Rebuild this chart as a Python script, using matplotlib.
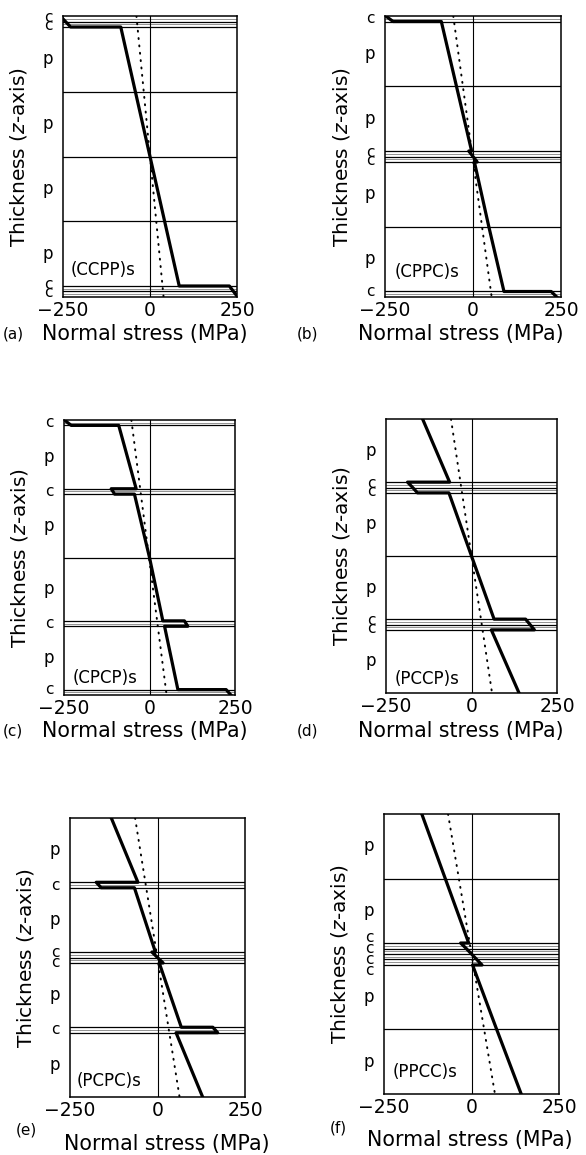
import matplotlib
matplotlib.use('Agg')
import matplotlib.pyplot as plt
import numpy as np
from matplotlib.transforms import offset_copy, blended_transform_factory

plt.rcParams['font.family'] = ['DejaVu Sans']
plt.rcParams['mathtext.fontset'] = 'dejavusans'

# ---------------- data ----------------
x_ticks = [-250, 0, 250]
x_tick_labels = ['\u2212250', '0', '250']
x_label = 'Normal stress (MPa)'
y_label = 'Thickness ($z$-axis)'
ply_thickness = {'c': 0.085, 'p': 1.0}

panel_letters = ['(a)', '(b)', '(c)', '(d)', '(e)', '(f)']
layup_names = ['(CCPP)s', '(CPPC)s', '(CPCP)s', '(PCCP)s', '(PCPC)s', '(PPCC)s']

# (a) (CCPP)s
layers_a = ['c', 'c', 'p', 'p', 'p', 'p', 'c', 'c']
stress_top_a = [-258, -243, -84, -42, 0, 42, 228, 240]
stress_bot_a = [-243, -228, -42, 0, 42, 84, 240, 252]
dotted_a = [-39, 39]

# (b) (CPPC)s
layers_b = ['c', 'p', 'p', 'c', 'c', 'p', 'p', 'c']
stress_top_b = [-248, -90, -47, -12, 0, 4, 45, 222]
stress_bot_b = [-227, -47, -4, 0, 12, 45, 88, 238]
dotted_b = [-56, 53]

# (c) (CPCP)s
layers_c = ['c', 'p', 'c', 'p', 'p', 'c', 'p', 'c']
stress_top_c = [-249, -90, -112, -44, 0, 102, 44, 224]
stress_bot_c = [-229, -39, -102, 0, 39, 112, 83, 238]
dotted_c = [-53, 50]

# (d) (PCCP)s
layers_d = ['p', 'c', 'c', 'p', 'p', 'c', 'c', 'p']
stress_top_d = [-143, -187, -172, -66, 0, 158, 171, 58]
stress_bot_d = [-64, -172, -158, 0, 66, 171, 184, 139]
dotted_d = [-60, 60]

# (e) (PCPC)s
layers_e = ['p', 'c', 'p', 'c', 'c', 'p', 'c', 'p']
stress_top_e = [-132, -175, -66, -16, 0, 5, 158, 53]
stress_bot_e = [-56, -161, -6, 0, 16, 68, 172, 129]
dotted_e = [-64, 63]

# (f) (PPCC)s
layers_f = ['p', 'p', 'c', 'c', 'c', 'c', 'p', 'p']
stress_top_f = [-142, -75, -31, -15, 0, 15, 3, 72]
stress_bot_f = [-75, -8, -15, 0, 15, 30, 72, 142]
dotted_f = [-67, 67]

panels = [
    (layers_a, stress_top_a, stress_bot_a, dotted_a),
    (layers_b, stress_top_b, stress_bot_b, dotted_b),
    (layers_c, stress_top_c, stress_bot_c, dotted_c),
    (layers_d, stress_top_d, stress_bot_d, dotted_d),
    (layers_e, stress_top_e, stress_bot_e, dotted_e),
    (layers_f, stress_top_f, stress_bot_f, dotted_f),
]

# ---------------- layout (pixels) ----------------
W, H_PX = 586, 1155
boxes = [(63, 16, 237, 297), (385, 16, 561, 297),
         (64, 420, 235, 695), (386, 419, 557, 693),
         (70, 818, 245, 1097), (384, 814, 559, 1094)]
xlabel_pos = [(145, 334), (461, 334), (145, 731), (461, 731), (167, 1144), (470, 1140)]
letter_pos = [(13, 334), (307, 334), (13, 731), (307, 731), (26, 1130), (338, 1128)]
name_offset = [(8, 27), (10, 25), (9, 17), (9, 14), (7, 16), (9, 22)]
c_gap_px = [7.8, 7.5, 7.8, 8.3, 9.5, 11.7]
C_FS = 11  # pt

fig = plt.figure(figsize=(W / 100, H_PX / 100), dpi=100)

for k, (layers, s_top, s_bot, dotted) in enumerate(panels):
    l, t, r, b = boxes[k]
    ax = fig.add_axes([l / W, 1 - b / H_PX, (r - l) / W, (b - t) / H_PX])
    th = [ply_thickness[s] for s in layers]
    edges = np.concatenate([[0.0], np.cumsum(th)])
    Ht = edges[-1]

    # layer boundaries
    for e in edges[1:-1]:
        ax.axhline(e, color='black', lw=0.9, zorder=2)
    for i, s in enumerate(layers):
        if s == 'c':
            ax.axhline((edges[i] + edges[i + 1]) / 2, color='0.4', lw=0.5, zorder=1)
    ax.axvline(0, color='black', lw=0.8, zorder=2)

    # stress profile
    xs, zs = [], []
    for i in range(len(layers)):
        xs += [s_top[i], s_bot[i]]
        zs += [edges[i], edges[i + 1]]
    ax.plot(xs, zs, color='black', lw=2.3, solid_joinstyle='round', zorder=4)
    ax.plot(dotted, [0, Ht], color='black', lw=1.4, linestyle=(0, (0.5, 3.3)),
            dash_capstyle='round', zorder=3)

    ax.set_xlim(-250, 250)
    ax.set_ylim(Ht, 0)
    ax.set_xticks(x_ticks)
    ax.set_xticklabels(x_tick_labels)
    ax.set_yticks([])
    ax.tick_params(axis='x', length=0, pad=3.2, labelsize=13.5)
    for sp in ax.spines.values():
        sp.set_linewidth(1.1)

    # layer letters
    base = blended_transform_factory(ax.transAxes, ax.transData)
    trans = offset_copy(base, fig=fig, x=-15, y=0, units='dots')
    trans_low = offset_copy(base, fig=fig, x=-15, y=3, units='dots')
    fs_px = C_FS * 100 / 72
    i = 0
    while i < len(layers):
        if layers[i] == 'p':
            ax.text(0, (edges[i] + edges[i + 1]) / 2, 'p', transform=trans,
                    ha='center', va='center', fontsize=12)
            i += 1
        else:
            j = i
            while j < len(layers) and layers[j] == 'c':
                j += 1
            n = j - i
            cen = (edges[i] + edges[j]) / 2
            ls = c_gap_px[k] / (0.968 * fs_px * 1.2)
            tr = trans_low if j == len(layers) else trans
            ax.text(0, cen, '\n'.join(['c'] * n), transform=tr, ha='center',
                    va='center', fontsize=C_FS, linespacing=ls,
                    multialignment='center')
            i = j

    # y label
    ax.text(0, 0.5, y_label, transform=offset_copy(ax.transAxes, fig=fig, x=-44, y=0, units='dots'),
            rotation=90, ha='center', va='center', fontsize=14.5)

    # layup name
    dx, dy = name_offset[k]
    ax.text(0, 0, layup_names[k], transform=offset_copy(ax.transAxes, fig=fig, x=dx, y=dy, units='dots'),
            ha='left', va='center', fontsize=12)

    # x label and panel letter
    cx, cy = xlabel_pos[k]
    fig.text(cx / W, 1 - cy / H_PX, x_label, ha='center', va='center', fontsize=14.8)
    lx, ly = letter_pos[k]
    fig.text(lx / W, 1 - ly / H_PX, panel_letters[k], ha='center', va='center', fontsize=11)

fig.savefig('out.png', dpi=100, facecolor='white')
